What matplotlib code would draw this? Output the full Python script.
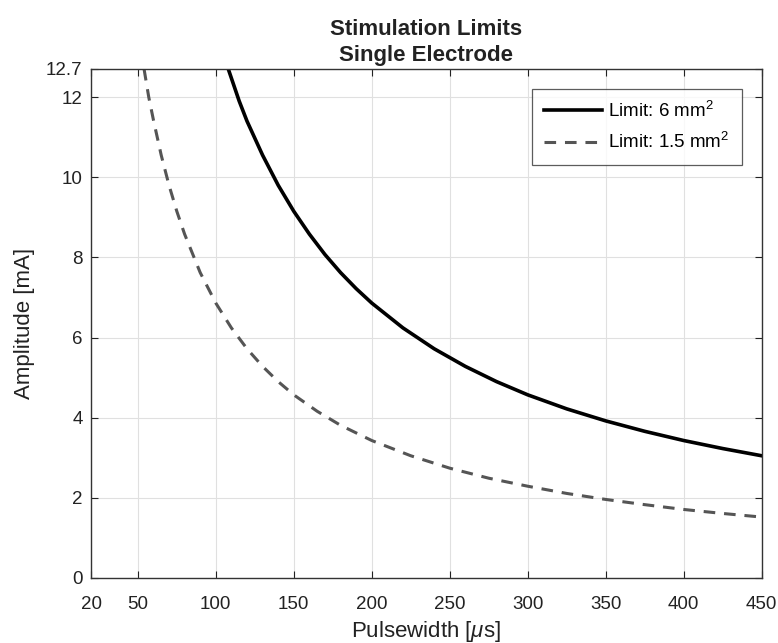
import numpy as np
import matplotlib
matplotlib.use('Agg')
import matplotlib.pyplot as plt

plt.rcParams['font.family'] = ['Liberation Sans', 'DejaVu Sans']
plt.rcParams['mathtext.fontset'] = 'custom'
plt.rcParams['mathtext.it'] = 'Liberation Sans:italic'
plt.rcParams['mathtext.rm'] = 'Liberation Sans'

# values
pw_6mm = [108, 115, 120, 130, 140, 150, 160, 170, 180, 190, 200, 220, 240,
          260, 280, 300, 325, 350, 375, 400, 425, 450]
amp_6mm = [12.7, 11.9, 11.4, 10.55, 9.8, 9.15, 8.58, 8.07, 7.62, 7.22, 6.86,
           6.24, 5.72, 5.28, 4.9, 4.57, 4.22, 3.92, 3.66, 3.43, 3.23, 3.05]

pw_15mm = [54, 57, 60, 65, 70, 75, 80, 90, 100, 110, 120, 130, 140, 150, 165,
           180, 200, 225, 250, 275, 300, 325, 350, 375, 400, 425, 450]
amp_15mm = [12.7, 12.0, 11.43, 10.55, 9.8, 9.15, 8.58, 7.62, 6.86, 6.24, 5.72,
            5.28, 4.9, 4.57, 4.16, 3.81, 3.43, 3.05, 2.74, 2.49, 2.29, 2.11,
            1.96, 1.83, 1.71, 1.61, 1.52]

xticks = [20, 50, 100, 150, 200, 250, 300, 350, 400, 450]
yticks = [0, 2, 4, 6, 8, 10, 12, 12.7]
ytick_labels = ['0', '2', '4', '6', '8', '10', '12', '12.7']

fig = plt.figure(figsize=(7.78, 6.43), dpi=100)
ax = fig.add_axes([0.117, 0.1011, 0.862, 0.7916])

ax.plot(pw_6mm, amp_6mm, color='black', lw=2.6, label='Limit: 6 mm$^2$')
ax.plot(pw_15mm, amp_15mm, color='#555555', lw=2.2, dashes=[3.8, 2.9],
        label='Limit: 1.5 mm$^2$')

ax.set_xlim(20, 450)
ax.set_ylim(0, 12.7)
ax.set_xticks(xticks)
ax.set_yticks(yticks)
ax.set_yticklabels(ytick_labels)
ax.grid(True, color='#e0e0e0', lw=0.8)
ax.set_axisbelow(True)
ax.tick_params(direction='in', top=True, right=True, labelsize=13.5,
               length=5, width=0.8, colors='#222222')
ax.tick_params(axis='x', pad=13)
ax.tick_params(axis='y', pad=6)
for s in ax.spines.values():
    s.set_color('#333333')
    s.set_linewidth(1.0)

ax.set_xlabel(r'Pulsewidth [$\mu$s]', fontsize=16, color='#222222', labelpad=4)
ax.set_ylabel('Amplitude [mA]', fontsize=16, color='#222222', labelpad=8)
ax.set_title('Stimulation Limits\nSingle Electrode', fontsize=16,
             fontweight='bold', color='#222222', pad=6, linespacing=1.3)

leg = ax.legend(loc='upper right', fontsize=13.5, handlelength=3.1,
                frameon=True, fancybox=False, borderaxespad=1.05,
                handletextpad=0.35, borderpad=0.65, labelspacing=0.6)
leg.get_frame().set_edgecolor('#333333')
leg.get_frame().set_linewidth(0.9)

fig.savefig('out.png', dpi=100)
